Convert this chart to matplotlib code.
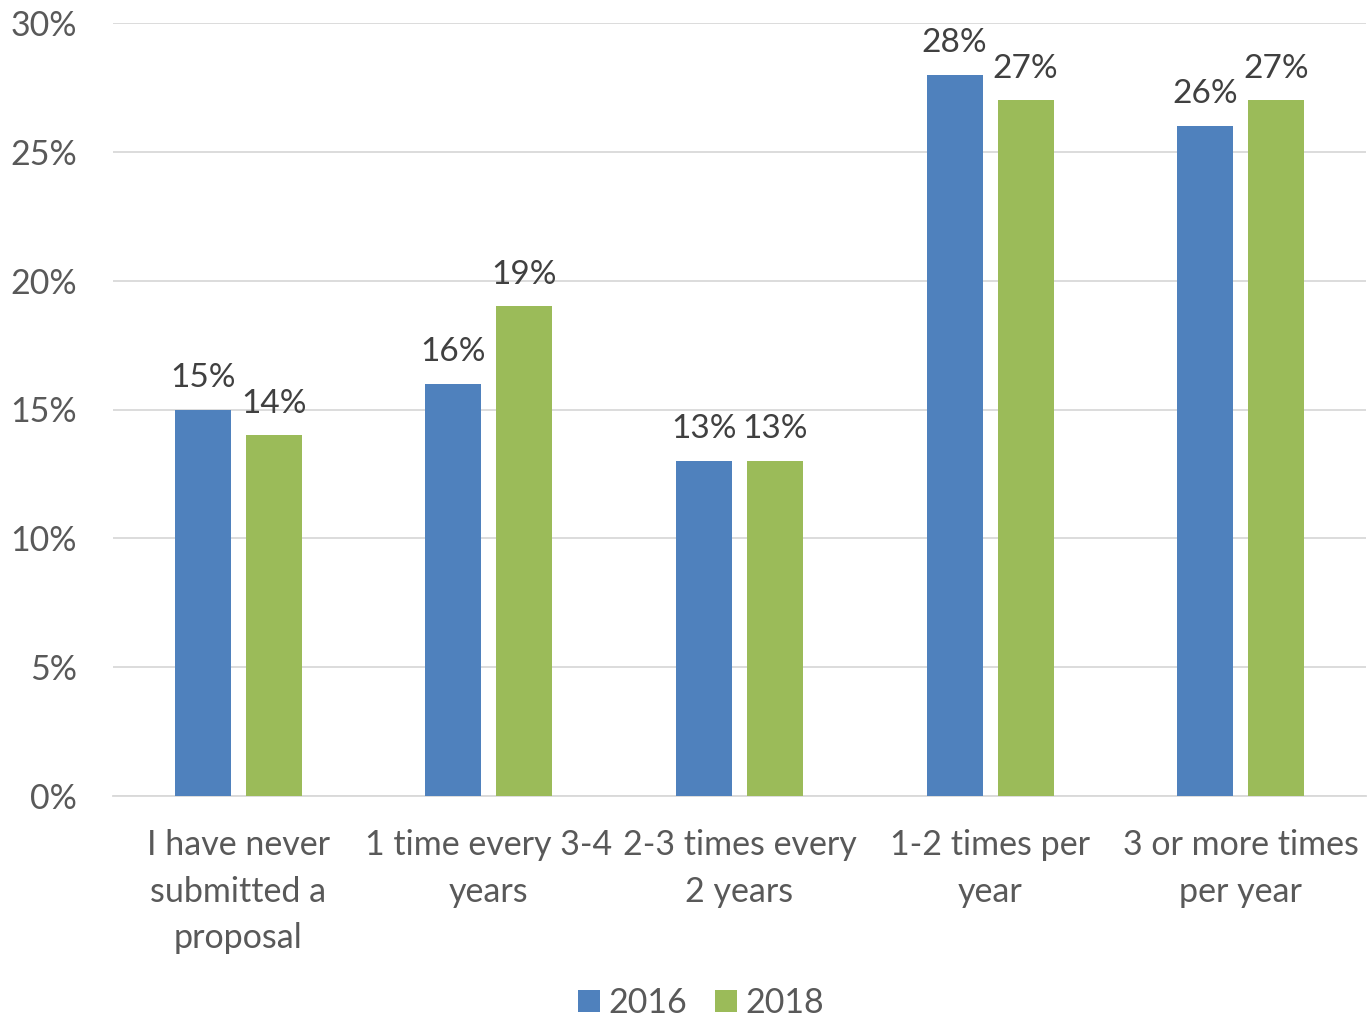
import matplotlib
matplotlib.use("Agg")
import matplotlib.pyplot as plt
import numpy as np

categories = ["I have never\nsubmitted a\nproposal", "1 time every 3-4\nyears",
              "2-3 times every\n2 years", "1-2 times per\nyear", "3 or more times\nper year"]
series_names = ["2016", "2018"]
values_2016 = [15, 16, 13, 28, 26]
values_2018 = [14, 19, 13, 27, 27]
yticks = [0, 5, 10, 15, 20, 25, 30]

colors = ["#4F81BD", "#9BBB59"]
plt.rcParams['font.family'] = ['Lato', 'DejaVu Sans']

fig = plt.figure(figsize=(13.68, 10.19), dpi=100)
ax = fig.add_axes([113/1368, 1-796/1019, (1366-113)/1368, (796-23)/1019])

x = np.arange(len(categories))
w = 0.2235
off = 0.142
b1 = ax.bar(x - off, values_2016, w, color=colors[0], label=series_names[0], zorder=3)
b2 = ax.bar(x + off, values_2018, w, color=colors[1], label=series_names[1], zorder=3)

for bars, vals in ((b1, values_2016), (b2, values_2018)):
    for b, v in zip(bars, vals):
        ax.annotate(f"{v}%", (b.get_x() + b.get_width()/2, v), xytext=(0, 12),
                    textcoords="offset points", ha="center", va="bottom",
                    fontsize=24, color="#404040")

ax.set_xlim(-0.5, len(categories) - 0.5)
ax.set_ylim(0, 30)
ax.set_yticks(yticks)
ax.set_yticklabels([f"{t}%" for t in yticks])
ax.set_xticks(x)
ax.set_xticklabels(categories, linespacing=1.55)
ax.tick_params(axis='y', length=0, pad=26, labelsize=24.5, labelcolor="#595959")
ax.tick_params(axis='x', length=0, pad=24, labelsize=24.5, labelcolor="#595959")
ax.grid(axis='y', color="#D9D9D9", linewidth=1.3, zorder=0)
for s in ["top", "right", "left"]:
    ax.spines[s].set_visible(False)
ax.spines["bottom"].set_color("#D9D9D9")
ax.spines["bottom"].set_linewidth(1.3)

leg = fig.legend(loc="center", bbox_to_anchor=(701/1368, 1-1003/1019), ncol=2, frameon=False,
                 fontsize=24.5, handlelength=0.65, handleheight=0.65, handletextpad=0.25,
                 columnspacing=0.8)
for t in leg.get_texts():
    t.set_color("#595959")

fig.savefig("out.png", dpi=100)
